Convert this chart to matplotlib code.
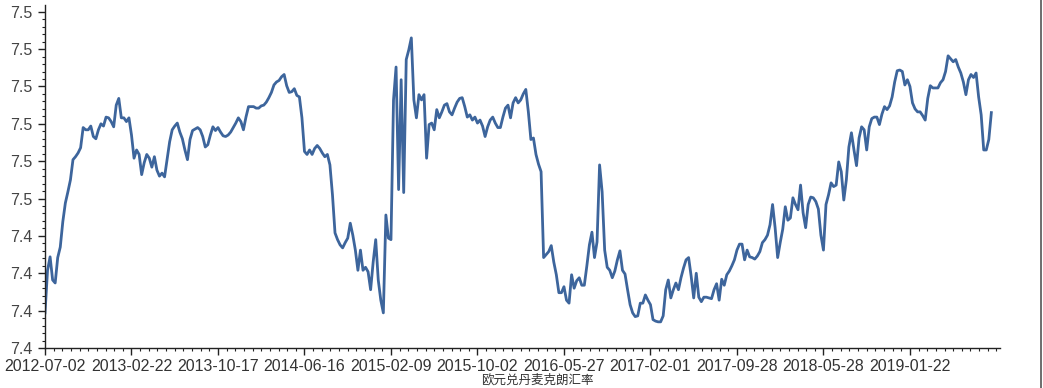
import numpy as np
import matplotlib
matplotlib.use("Agg")
import matplotlib.pyplot as plt
from matplotlib.ticker import AutoMinorLocator, FixedLocator, FormatStrFormatter
from matplotlib.lines import Line2D

# 欧元兑丹麦克朗, 每5个交易日取一个值
rate = [
    7.4347, 7.4404, 7.4422, 7.4391, 7.4387, 7.4421, 7.4435, 7.4469, 7.4494, 7.4509,
    7.4525, 7.4552, 7.4556, 7.4561, 7.4568, 7.4595, 7.4592, 7.4592, 7.4597, 7.4583,
    7.4580, 7.4592, 7.4600, 7.4597, 7.4609, 7.4608, 7.4603, 7.4596, 7.4625, 7.4634,
    7.4608, 7.4608, 7.4603, 7.4608,
    7.4585, 7.4554, 7.4565, 7.4559, 7.4532, 7.4548, 7.4559, 7.4554, 7.4542, 7.4556,
    7.4538, 7.4530, 7.4534, 7.4529, 7.4552, 7.4576, 7.4592, 7.4597, 7.4601, 7.4589,
    7.4580, 7.4565, 7.4552, 7.4579, 7.4591, 7.4593, 7.4595, 7.4592, 7.4583, 7.4569,
    7.4572, 7.4585, 7.4596, 7.4591,
    7.4595, 7.4589, 7.4584, 7.4583, 7.4585, 7.4589, 7.4595, 7.4601, 7.4608, 7.4603,
    7.4592, 7.4609, 7.4623, 7.4623, 7.4623, 7.4621, 7.4621, 7.4624, 7.4625, 7.4629,
    7.4635, 7.4642, 7.4652, 7.4656, 7.4658, 7.4663, 7.4666, 7.4651, 7.4642, 7.4643,
    7.4647, 7.4638, 7.4636, 7.4608,
    7.4563, 7.4559, 7.4565, 7.4559, 7.4567, 7.4571, 7.4567, 7.4561, 7.4556, 7.4559,
    7.4545, 7.4505, 7.4454, 7.4445, 7.4438, 7.4434, 7.4441, 7.4447, 7.4467, 7.4451,
    7.4431, 7.4404, 7.4431, 7.4404, 7.4408, 7.4402, 7.4378, 7.4415, 7.4445, 7.4391,
    7.4364, 7.4347, 7.4478, 7.4447,
    7.4445, 7.4632, 7.4676, 7.4512, 7.4659, 7.4508, 7.4686, 7.4699, 7.4715, 7.4632,
    7.4608, 7.4639, 7.4632, 7.4639, 7.4554, 7.4599, 7.4601, 7.4592, 7.4619, 7.4608,
    7.4616, 7.4625, 7.4627, 7.4616, 7.4612, 7.4621, 7.4629, 7.4634, 7.4635, 7.4623,
    7.4609, 7.4612, 7.4605, 7.4609,
    7.4601, 7.4605, 7.4597, 7.4583, 7.4596, 7.4605, 7.4609, 7.4601, 7.4595, 7.4595,
    7.4609, 7.4621, 7.4625, 7.4608, 7.4628, 7.4635, 7.4628, 7.4632, 7.4640, 7.4646,
    7.4616, 7.4579, 7.4581, 7.4559, 7.4546, 7.4536, 7.4421, 7.4425, 7.4429, 7.4437,
    7.4415, 7.4398, 7.4374, 7.4374,
    7.4382, 7.4364, 7.4360, 7.4398, 7.4380, 7.4390, 7.4394, 7.4384, 7.4384, 7.4410,
    7.4438, 7.4455, 7.4421, 7.4442, 7.4545, 7.4509, 7.4431, 7.4408, 7.4404, 7.4394,
    7.4403, 7.4418, 7.4430, 7.4404, 7.4399, 7.4378, 7.4358, 7.4347, 7.4342, 7.4343,
    7.4360, 7.4360, 7.4371, 7.4364,
    7.4358, 7.4338, 7.4336, 7.4335, 7.4335, 7.4343, 7.4378, 7.4391, 7.4367, 7.4378,
    7.4387, 7.4378, 7.4394, 7.4407, 7.4418, 7.4421, 7.4396, 7.4367, 7.4400, 7.4368,
    7.4362, 7.4368, 7.4368, 7.4367, 7.4366, 7.4378, 7.4386, 7.4364, 7.4392, 7.4384,
    7.4398, 7.4403, 7.4410, 7.4418,
    7.4431, 7.4439, 7.4439, 7.4418, 7.4431, 7.4422, 7.4421, 7.4419, 7.4423, 7.4429,
    7.4441, 7.4445, 7.4451, 7.4465, 7.4492, 7.4461, 7.4421, 7.4441, 7.4459, 7.4489,
    7.4471, 7.4474, 7.4501, 7.4492, 7.4485, 7.4518, 7.4481, 7.4461, 7.4492, 7.4502,
    7.4501, 7.4496, 7.4486, 7.4451,
    7.4431, 7.4492, 7.4505, 7.4521, 7.4516, 7.4518, 7.4549, 7.4536, 7.4498, 7.4525,
    7.4569, 7.4588, 7.4565, 7.4544, 7.4581, 7.4596, 7.4592, 7.4565, 7.4596, 7.4607,
    7.4609, 7.4609, 7.4599, 7.4613, 7.4623, 7.4619, 7.4624, 7.4636, 7.4656, 7.4671,
    7.4672, 7.4670, 7.4652, 7.4659,
    7.4650, 7.4628, 7.4620, 7.4616, 7.4616, 7.4611, 7.4605, 7.4634, 7.4651, 7.4648,
    7.4648, 7.4648, 7.4655, 7.4659, 7.4670, 7.4691, 7.4687, 7.4683, 7.4686, 7.4676,
    7.4668, 7.4656, 7.4639, 7.4659, 7.4666, 7.4662, 7.4668, 7.4636, 7.4612, 7.4565,
    7.4565, 7.4579, 7.4615,
]

# 每170个交易日一个刻度
date_labels = ["2012-07-02", "2013-02-22", "2013-10-17", "2014-06-16", "2015-02-09",
               "2015-10-02", "2016-05-27", "2017-02-01", "2017-09-28", "2018-05-28",
               "2019-01-22"]
y_ticks = [7.430, 7.435, 7.440, 7.445, 7.450, 7.455, 7.460, 7.465, 7.470, 7.475]

plt.rcParams['font.family'] = ['Liberation Sans', 'Noto Sans CJK SC']

fig = plt.figure(figsize=(10.43, 3.88), dpi=100)
ax = fig.add_axes([45 / 1043, 1 - 348 / 388, 955 / 1043, 343 / 388])

day = np.arange(len(rate)) * 5
ax.plot(day, rate, color='#3d659c', linewidth=2.0)

ax.set_xlim(0, 1877)
ax.set_ylim(7.43, 7.4759)

ax.xaxis.set_major_locator(FixedLocator(np.arange(len(date_labels)) * 170))
ax.set_xticklabels(date_labels)
ax.xaxis.set_minor_locator(AutoMinorLocator(10))
ax.yaxis.set_major_locator(FixedLocator(y_ticks))
ax.yaxis.set_major_formatter(FormatStrFormatter('%.1f'))
ax.yaxis.set_minor_locator(AutoMinorLocator(5))

for s in ['top', 'right']:
    ax.spines[s].set_visible(False)
for s in ['left', 'bottom']:
    ax.spines[s].set_color('#222222')
    ax.spines[s].set_linewidth(1.0)

ax.tick_params(which='major', length=5, width=1, color='#222222', labelsize=11.5,
               labelcolor='#333333')
ax.tick_params(which='minor', length=2.5, width=0.8, color='#222222')
ax.tick_params(axis='x', pad=3)
ax.tick_params(axis='y', pad=4, labelcolor='#444444')

# 横轴标题 (原图被截掉一半, 这里放在刻度标签下方并保证完整)
fig.text(537 / 1043, 1 - 374 / 388, "欧元兑丹麦克朗汇率", ha='center', va='top',
         fontsize=9, color='#333333', family=['Noto Sans CJK SC', 'DejaVu Sans'])

# 右侧边框
fig.add_artist(Line2D([1040.5 / 1043] * 2, [0, 1], color='#555555', linewidth=1.2))

fig.savefig("out.png", dpi=100)
